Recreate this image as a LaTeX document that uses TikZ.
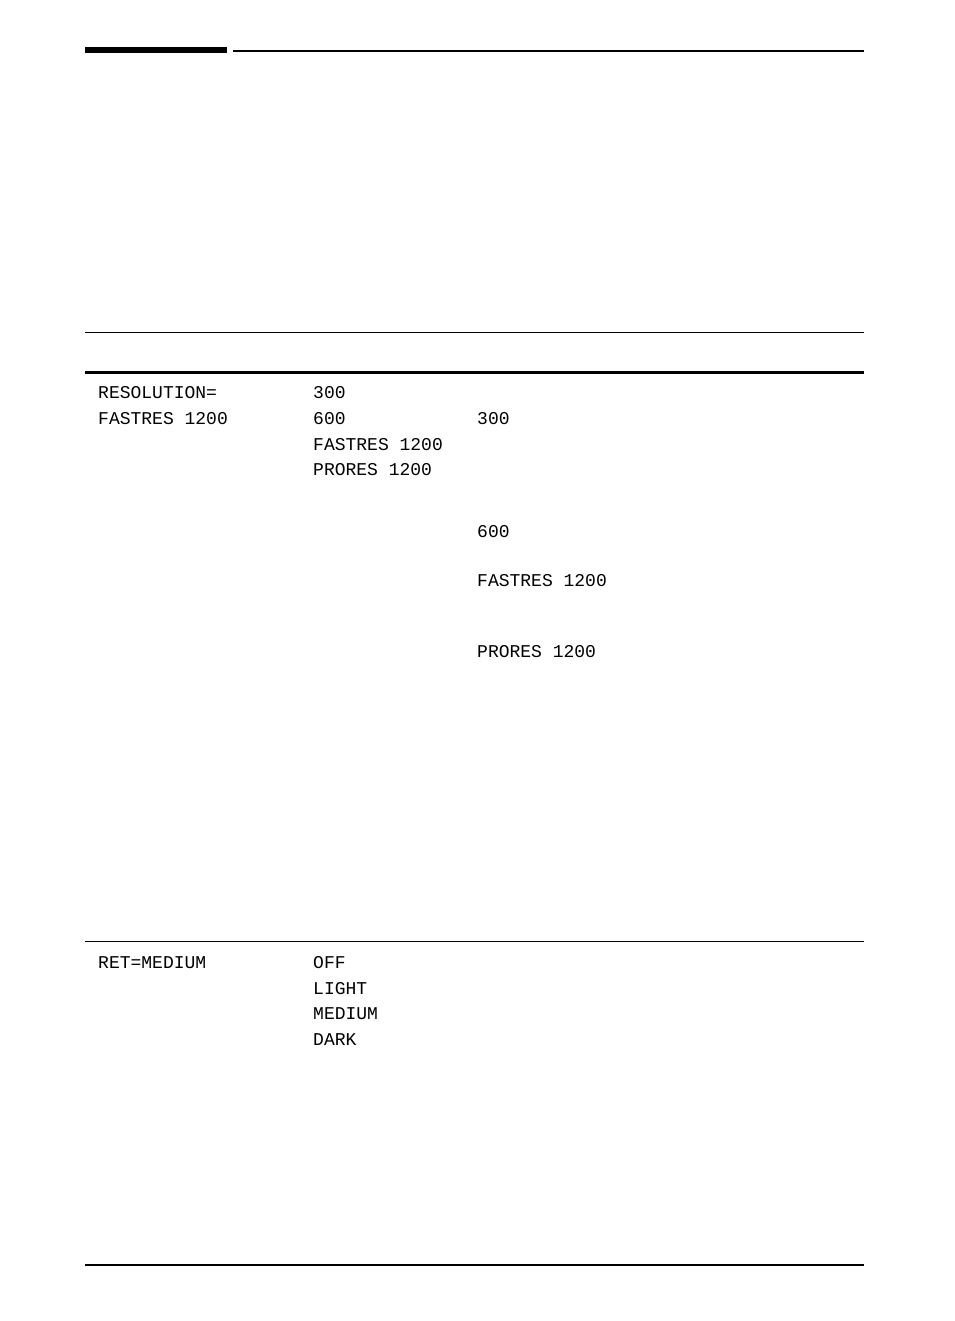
\documentclass[tikz,border=0pt]{standalone}
\usepackage{fontspec}
\setmonofont{Liberation Mono}
\begin{document}
\begin{tikzpicture}[x=1pt,y=-1pt,
  t/.style={anchor=base west,inner sep=0pt,font=\ttfamily\fontsize{18pt}{20pt}\selectfont}]
\useasboundingbox (0,0) rectangle (954,1321);
\fill (85,47.5) rectangle (227,53);
\draw[line width=1.8pt] (233,51) -- (864,51);
\draw[line width=1pt] (85,332.5) -- (864,332.5);
\draw[line width=3pt] (85,372) -- (864,372);
\draw[line width=1pt] (85,941.5) -- (864,941.5);
\draw[line width=1.8pt] (85,1265) -- (864,1265);
\node[t] (a1) at (98,398) {RESOLUTION=};
\node[t] (a2) at (98,424) {FASTRES 1200};
\node[t] (b1) at (313,398) {300};
\node[t] (b2) at (313,424) {600};
\node[t] (b3) at (313,450) {FASTRES 1200};
\node[t] (b4) at (313,475) {PRORES 1200};
\node[t] (c1) at (477,424) {300};
\node[t] (c2) at (477,537) {600};
\node[t] (c3) at (477,586) {FASTRES 1200};
\node[t] (c4) at (477,657) {PRORES 1200};
\node[t] (r1) at (98,968) {RET=MEDIUM};
\node[t] (s1) at (313,968) {OFF};
\node[t] (s2) at (313,994) {LIGHT};
\node[t] (s3) at (313,1019) {MEDIUM};
\node[t] (s4) at (313,1045) {DARK};
\end{tikzpicture}
\end{document}
